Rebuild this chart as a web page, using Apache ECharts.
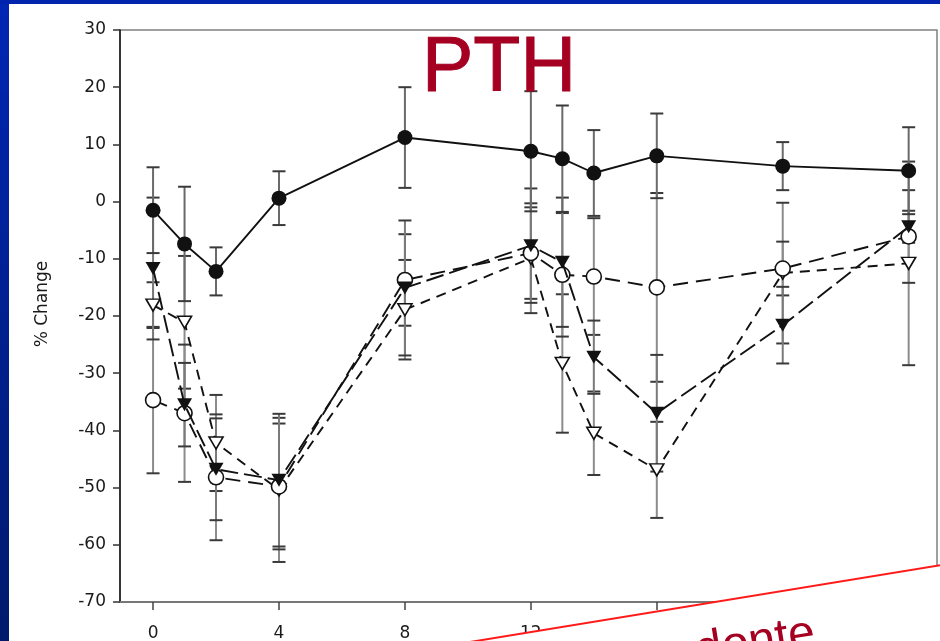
<!DOCTYPE html>
<html><head><meta charset="utf-8">
<script src="https://cdn.jsdelivr.net/npm/echarts@6/dist/echarts.min.js"></script>
<style>html,body{margin:0;padding:0;background:#fff}#c{width:940px;height:641px}</style>
</head><body><div id="c"></div>
<script>
// time points (x axis)
const hours = [0, 1, 2, 4, 8, 12, 13, 14, 16, 20, 24];
const xTickValues = [0, 4, 8, 12, 16, 20, 24];
// series values (% change) and error half-widths
const filledCircle    = [-1.5, -7.4, -12.2, 0.6, 11.2, 8.8, 7.5, 5.0, 8.0, 6.2, 5.4];
const filledCircleErr = [7.5, 10.0, 4.2, 4.7, 8.8, 10.5, 9.3, 7.5, 7.4, 4.2, 7.6];
const filledTri       = [-11.7, -35.5, -46.8, -48.7, -15.1, -7.7, -10.6, -27.2, -37.0, -21.6, -4.4];
const filledTriErr    = [12.4, 7.3, 8.9, 11.6, 11.8, 10.0, 11.3, 6.4, 10.2, 6.7, 2.8];
const openCircle      = [-34.7, -37.0, -48.2, -49.8, -13.7, -9.0, -12.8, -13.1, -15.0, -11.7, -6.1];
const openCircleErr   = [12.8, 12.0, 11.0, 11.0, 8.0, 8.0, 10.8, 10.2, 16.5, 4.7, 8.1];
const openTri         = [-18.1, -21.1, -42.2, -50.4, -18.9, -9.9, -28.3, -40.5, -46.9, -12.5, -10.8];
const openTriErr      = [4.0, 11.6, 8.4, 12.6, 8.7, 9.6, 12.1, 7.3, 8.4, 12.3, 17.8];
const titleText = 'PTH';
const yAxisTitle = '% Change';
const noteText = 'donte';

const chart = echarts.init(document.getElementById('c'), null, {renderer: 'canvas'});

function errSeries(vals, errs, lineColor) {
  return {
    type: 'custom',
    silent: true,
    z: 1,
    data: hours.map((h, i) => [h, vals[i] - errs[i], vals[i] + errs[i]]),
    encode: {x: 0, y: [1, 2]},
    renderItem: function (params, api) {
      const x = api.value(0);
      const lo = api.coord([x, api.value(1)]);
      const hi = api.coord([x, api.value(2)]);
      const w = 6.5;
      return {
        type: 'group',
        children: [
          {type: 'line', shape: {x1: lo[0], y1: lo[1], x2: hi[0], y2: hi[1]}, style: {stroke: lineColor, lineWidth: 2}},
          {type: 'line', shape: {x1: lo[0] - w, y1: lo[1], x2: lo[0] + w, y2: lo[1]}, style: {stroke: '#3a3a3a', lineWidth: 2}},
          {type: 'line', shape: {x1: hi[0] - w, y1: hi[1], x2: hi[0] + w, y2: hi[1]}, style: {stroke: '#3a3a3a', lineWidth: 2}}
        ]
      };
    }
  };
}

function lineSeries(vals, dash, symbol, size, rotate, fill, z) {
  return {
    type: 'line',
    data: hours.map((h, i) => [h, vals[i]]),
    z: z,
    symbol: symbol,
    symbolSize: size,
    symbolRotate: rotate,
    showAllSymbol: true,
    lineStyle: {color: '#111', width: 1.9, type: dash},
    itemStyle: {color: fill, borderColor: '#111', borderWidth: fill === '#fff' ? 1.6 : 0, opacity: 1},
    emphasis: {disabled: true},
    animation: false
  };
}

const labelFont = {fontFamily: 'DejaVu Sans', fontSize: 17, color: '#1a1a1a'};

chart.setOption({
  animation: false,
  backgroundColor: '#fff',
  grid: {left: 120, top: 30, right: 3, bottom: 39, show: true, borderColor: '#808080', borderWidth: 1.5, outerBoundsMode: 'none'},
  xAxis: {
    type: 'value', min: -1.05, max: 24.9,
    splitLine: {show: false},
    axisLine: {show: true, onZero: false, lineStyle: {color: '#777', width: 2}},
    axisTick: {show: true, inside: false, length: 8, customValues: xTickValues, lineStyle: {color: '#444', width: 1.5}},
    axisLabel: Object.assign({margin: 23, customValues: xTickValues}, labelFont)
  },
  yAxis: {
    type: 'value', min: -70, max: 30, interval: 10,
    splitLine: {show: false},
    axisLine: {show: true, onZero: false, lineStyle: {color: '#111', width: 1.5}},
    axisTick: {show: true, inside: false, length: 7, lineStyle: {color: '#333', width: 1.5}},
    axisLabel: Object.assign({margin: 14}, labelFont)
  },
  series: [
    errSeries(openTri, openTriErr, '#8c8c8c'),
    errSeries(openCircle, openCircleErr, '#8c8c8c'),
    errSeries(filledTri, filledTriErr, '#7a7a7a'),
    errSeries(filledCircle, filledCircleErr, '#6a6a6a'),
    lineSeries(openTri, [10, 7], 'triangle', [14, 12], 180, '#fff', 3),
    lineSeries(openCircle, [15, 8], 'circle', 15, 0, '#fff', 3),
    lineSeries(filledTri, [18, 6], 'triangle', [15, 13], 180, '#111', 4),
    lineSeries(filledCircle, 'solid', 'circle', 15, 0, '#111', 5)
  ],
  graphic: [
    {type: 'rect', z: 100, shape: {x: 0, y: 0, width: 9, height: 641},
     style: {fill: new echarts.graphic.LinearGradient(0, 0, 0, 1, [{offset: 0, color: '#0026b4'}, {offset: 1, color: '#001a6c'}])}},
    {type: 'rect', z: 100, shape: {x: 0, y: 0, width: 940, height: 4}, style: {fill: '#0024ae'}},
    {type: 'text', z: 100, x: 499, y: 70,
     style: {text: titleText, fill: '#a50021', font: '77px "Liberation Sans", Arial, sans-serif', align: 'center', verticalAlign: 'middle', stroke: '#a50021', lineWidth: 1}},
    {type: 'text', z: 100, x: 43, y: 304, rotation: Math.PI / 2,
     style: {text: yAxisTitle, fill: '#1a1a1a', font: '17px "DejaVu Sans", sans-serif', align: 'center', verticalAlign: 'middle'}},
    {type: 'polygon', z: 110, shape: {points: [[470, 642], [941, 565], [941, 645], [470, 645]]}, style: {fill: '#fff'}},
    {type: 'line', z: 111, shape: {x1: 470, y1: 642, x2: 941, y2: 565}, style: {stroke: '#ff1a1a', lineWidth: 2}},
    {type: 'text', z: 112, x: 700, y: 676, rotation: 0.158,
     style: {text: noteText, fill: '#a50021', font: '48px "Liberation Sans", Arial, sans-serif', align: 'left', verticalAlign: 'bottom'}}
  ]
});
</script>
</body></html>
